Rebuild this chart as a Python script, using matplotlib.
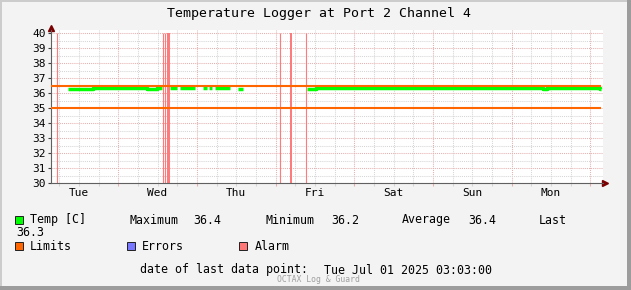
""" Temperature logger chart, rrdtool look """
import numpy as np
import pandas as pd
import matplotlib
matplotlib.use("Agg")
import matplotlib.pyplot as plt
import matplotlib.dates as mdates
from matplotlib.patches import Rectangle
from matplotlib.ticker import MultipleLocator

W, H = 631, 290
MONO = "DejaVu Sans Mono"

# temperature samples, drawn as steps; nan marks a gap in the data
temp_times = [
    "2025-06-24 08:40", "2025-06-24 13:15", "2025-06-24 14:50", "2025-06-24 16:20",
    "2025-06-25 08:50", "2025-06-25 11:50", "2025-06-25 13:20", "2025-06-25 15:50",
    "2025-06-25 17:55", "2025-06-25 18:50", "2025-06-25 23:25", "2025-06-26 01:50",
    "2025-06-26 03:05", "2025-06-26 03:40", "2025-06-26 04:35", "2025-06-26 05:30",
    "2025-06-26 10:05", "2025-06-26 12:35", "2025-06-26 14:05", "2025-06-27 09:35",
    "2025-06-27 12:20", "2025-06-30 09:35", "2025-06-30 10:50", "2025-07-01 03:03",
]
temp_values = [
    36.30, 36.25, 36.30, 36.35,
    36.30, 36.35, np.nan, 36.35,
    np.nan, 36.35, np.nan, 36.35,
    np.nan, 36.35, np.nan, 36.35,
    np.nan, 36.25, np.nan, 36.30,
    36.35, 36.25, 36.35, 36.30,
]
graph_start = "2025-06-24 03:30"
graph_end = "2025-07-01 03:18"
axis_end = "2025-07-01 03:54"

limit_values = [36.5, 35.0]

# alarm marks: thin single lines and wider blocks
alarm_times = ["2025-06-24 05:20", "2025-06-25 13:40", "2025-06-25 14:17",
               "2025-06-27 01:22", "2025-06-27 09:17"]
alarm_starts = ["2025-06-25 14:53", "2025-06-27 04:25"]
alarm_ends = ["2025-06-25 15:48", "2025-06-27 05:01"]

day_names = ["Tue", "Wed", "Thu", "Fri", "Sat", "Sun", "Mon"]
day_noons = pd.date_range("2025-06-24 12:00", periods=7, freq="D")

stat_names = ["Maximum", "Minimum", "Average", "Last"]
stat_values = ["36.4", "36.2", "36.4", "36.3"]
last_point = "Tue Jul 01 2025 03:03:00"


def num(t):
    return mdates.date2num(pd.to_datetime(t).to_pydatetime())


def px(x, y):
    return x / W, 1 - y / H


fig = plt.figure(figsize=(W / 100, H / 100), dpi=100, facecolor="#f3f3f3")
ax = fig.add_axes([51 / W, (H - 183) / H, (603 - 51) / W, (183 - 30) / H])
ax.set_facecolor("white")

x0, x1 = num(graph_start), num(axis_end)
ax.set_xlim(x0, x1)
ax.set_ylim(30, 40.2)

# grid
ax.xaxis.set_major_locator(mdates.DayLocator())
ax.xaxis.set_minor_locator(mdates.HourLocator(byhour=[0, 6, 12, 18]))
ax.yaxis.set_major_locator(MultipleLocator(1))
ax.yaxis.set_minor_locator(MultipleLocator(0.5))
ax.set_axisbelow(True)
ax.grid(which="major", color="#e6b0b0", linestyle=(0, (1, 1)), linewidth=0.75)
ax.grid(which="minor", color="#d6d6d6", linestyle=(0, (1, 1)), linewidth=0.75)

# alarms
ax.vlines(num(alarm_times), 30, 40, color="#ff7b7b", linewidth=0.8, zorder=2)
for a, b in zip(alarm_starts, alarm_ends):
    ax.fill_betweenx([30, 40], num(a), num(b), color="#ff7b7b", linewidth=0, zorder=2)

# temperature
tx = list(num(temp_times)) + [num(graph_end)]
ty = temp_values + [temp_values[-1]]
ax.step(tx, ty, where="post", color="#00ff00", linewidth=2.5, zorder=3,
        solid_capstyle="butt")

# limits
ax.hlines(limit_values, x0, num(graph_end), color="#ff6600", linewidth=1.5, zorder=4)

# axes
for s in ["top", "right"]:
    ax.spines[s].set_visible(False)
for s in ["left", "bottom"]:
    ax.spines[s].set_color("#606060")
    ax.spines[s].set_linewidth(0.8)
ax.plot([0], [1.016], marker="^", color="#7a0000", markersize=4, transform=ax.transAxes,
        clip_on=False)
ax.plot([1.0036], [0], marker=">", color="#7a0000", markersize=4, transform=ax.transAxes,
        clip_on=False)

ax.set_yticks(range(30, 41))
ax.tick_params(axis="y", which="major", length=2.2, width=0.8, color="#404040", pad=1.5,
               labelsize=8, labelcolor="black")
ax.tick_params(axis="y", which="minor", length=0)
for lab in ax.get_yticklabels():
    lab.set_family(MONO)
ax.tick_params(axis="x", which="major", length=2.2, width=0.8, color="#e6b0b0",
               labelbottom=False)
ax.tick_params(axis="x", which="minor", length=2.2, width=0.8, color="#d6d6d6")

tr = matplotlib.transforms.blended_transform_factory(ax.transData, ax.transAxes)
for name, t in zip(day_names, day_noons):
    ax.text(num(t), -10 / 153, name, transform=tr, ha="center", va="center",
            family=MONO, fontsize=8)

# title
fig.text(*px(319, 14), "Temperature Logger at Port 2 Channel 4", ha="center", va="center",
         family=MONO, fontsize=9.5)

# legend
def square(x, y, color):
    fx, fy = px(x, y + 4)
    fig.add_artist(Rectangle((fx, fy), 8 / W, 8 / H, transform=fig.transFigure,
                             facecolor=color, edgecolor="#202020", linewidth=0.7))

LS = 8.4
square(15, 220, "#00ff00")
fig.text(*px(30, 220), "Temp [C]", va="center", family=MONO, fontsize=LS)
name_x = [129, 266, 402, 539]
val_x = [193, 331, 468]
for i, n in enumerate(stat_names):
    fig.text(*px(name_x[i], 220), n, va="center", family=MONO, fontsize=LS)
for i in range(3):
    fig.text(*px(val_x[i], 220), stat_values[i], va="center", family=MONO, fontsize=LS)
fig.text(*px(16, 233), stat_values[3], va="center", family=MONO, fontsize=LS)

square(15, 246, "#ff6600")
fig.text(*px(30, 246), "Limits", va="center", family=MONO, fontsize=LS)
square(127, 246, "#7777ff")
fig.text(*px(142, 246), "Errors", va="center", family=MONO, fontsize=LS)
square(239, 246, "#ff7777")
fig.text(*px(255, 246), "Alarm", va="center", family=MONO, fontsize=LS)

fig.text(*px(140, 270), "date of last data point:", va="center", family=MONO, fontsize=LS)
fig.text(*px(324, 270), last_point, va="center", family=MONO, fontsize=LS)
fig.text(*px(318, 280), "OCTAX Log & Guard", ha="center", va="center", family=MONO,
         fontsize=5.9, color="#a0a0a0")

# frame
fig.add_artist(Rectangle((0, 1 - 2 / H), 1, 2 / H, transform=fig.transFigure,
                         color="#cccccc", lw=0))
fig.add_artist(Rectangle((0, 0), 2 / W, 1, transform=fig.transFigure, color="#cccccc", lw=0))
fig.add_artist(Rectangle((1 - 4 / W, 0), 4 / W, 1, transform=fig.transFigure,
                         color="#9c9c9c", lw=0))
fig.add_artist(Rectangle((0, 0), 1, 4 / H, transform=fig.transFigure, color="#9c9c9c", lw=0))

fig.savefig("out.png", dpi=100, facecolor=fig.get_facecolor())
